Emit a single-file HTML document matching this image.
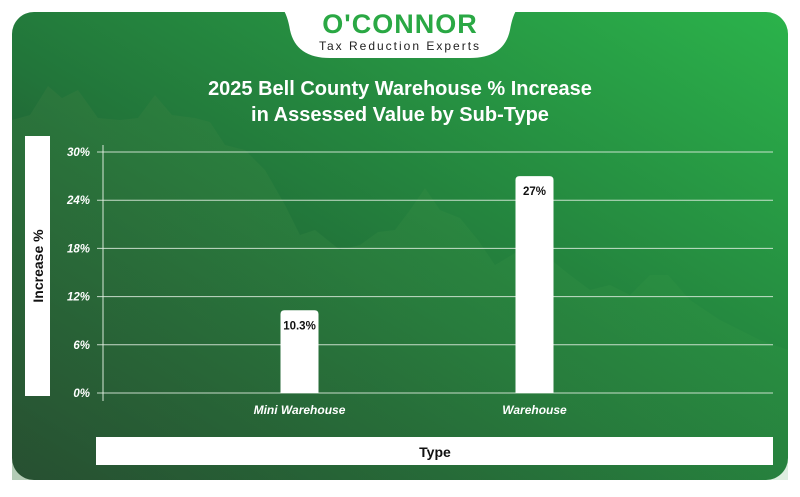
<!DOCTYPE html>
<html><head><meta charset="utf-8"><style>
body{margin:0;width:800px;height:492px;background:#fff;overflow:hidden;font-family:"Liberation Sans",sans-serif}
</style></head><body>
<svg width="800" height="492" viewBox="0 0 800 492" xmlns="http://www.w3.org/2000/svg">
<defs>
<linearGradient id="bg" x1="0" y1="1" x2="1" y2="0">
<stop offset="0" stop-color="#1b3528"/><stop offset="0.45" stop-color="#22753a"/><stop offset="1" stop-color="#2bb34b"/>
</linearGradient>
<linearGradient id="mt" x1="0" y1="0" x2="1" y2="0">
<stop offset="0" stop-color="#3a7a40" stop-opacity="0.7"/><stop offset="1" stop-color="#3aa048" stop-opacity="0.3"/>
</linearGradient>
</defs>
<rect x="12" y="12" width="776" height="468" rx="22" fill="url(#bg)"/>
<path d="M12,120 L30,115 L48,86 L62,98 L78,90 L98,118 L120,120 L138,118 L155,95 L172,115 L195,118 L210,122 L225,145 L245,150 L265,170 L285,205 L300,235 L315,230 L340,250 L360,245 L378,232 L395,230 L410,210 L425,188 L440,210 L460,218 L478,240 L495,265 L520,250 L545,255 L570,275 L590,290 L610,285 L630,295 L650,275 L668,275 L690,300 L720,320 L760,340 L788,350 L788,480 L12,480 Z" fill="url(#mt)" opacity="0.55"/>
<path d="M268,0 Q285,0 290,30 Q296,58 330,58 L470,58 Q504,58 510,30 Q515,0 532,0 Z" fill="#fff"/>
<text x="400" y="33" text-anchor="middle" font-size="27" font-weight="bold" fill="#2aa844" letter-spacing="1">O'CONNOR</text>
<text x="400" y="50" text-anchor="middle" font-size="12" fill="#222" letter-spacing="2">Tax Reduction Experts</text>
<text x="400" y="95" text-anchor="middle" font-size="20" font-weight="bold" fill="#fff">2025 Bell County Warehouse % Increase</text>
<text x="400" y="121" text-anchor="middle" font-size="20" font-weight="bold" fill="#fff">in Assessed Value by Sub-Type</text>
<rect x="25" y="136" width="25" height="260" fill="#fff"/>
<text transform="translate(43,266) rotate(-90)" text-anchor="middle" font-size="14" font-weight="bold" fill="#111">Increase %</text>
<rect x="96" y="437" width="677" height="28" fill="#fff"/>
<text x="435" y="457" text-anchor="middle" font-size="14" font-weight="bold" fill="#111">Type</text>
<line x1="103" y1="145" x2="103" y2="401" stroke="#d8e8d8" stroke-width="1"/>
<g id="grid"></g><g id="bars"></g>
</svg>
<script>
const categories = ["Mini Warehouse", "Warehouse"];
const values = [10.3, 27];
const valueLabels = ["10.3%", "27%"];
const yTicks = [0, 6, 12, 18, 24, 30];
const yTickLabels = ["0%", "6%", "12%", "18%", "24%", "30%"];

const NS = "http://www.w3.org/2000/svg";
const y0 = 393, y1 = 152, vMax = 30;
function yScale(v){ return y0 - (v / vMax) * (y0 - y1); }
const bandLeft = 182, bandRight = 652, xRight = 773;
function xScale(i){ return bandLeft + (bandRight - bandLeft) * (i + 0.5) / categories.length; }
const grid = document.getElementById('grid');
yTicks.forEach((t, i) => {
  const y = yScale(t);
  const l = document.createElementNS(NS, 'line');
  l.setAttribute('x1', 97); l.setAttribute('x2', xRight);
  l.setAttribute('y1', y); l.setAttribute('y2', y);
  l.setAttribute('stroke', '#e4f0e4'); l.setAttribute('stroke-opacity', '0.85');
  
  
  grid.appendChild(l);
  const tx = document.createElementNS(NS, 'text');
  tx.setAttribute('x', 90); tx.setAttribute('y', y + 4);
  tx.setAttribute('text-anchor', 'end'); tx.setAttribute('font-size', '11.5');
  tx.setAttribute('font-weight', 'bold'); tx.setAttribute('font-style', 'italic');
  tx.setAttribute('fill', '#fff');
  tx.textContent = yTickLabels[i];
  
  
  grid.appendChild(tx);
});
const bars = document.getElementById('bars');
const bw = 38;
categories.forEach((c, i) => {
  const cx = xScale(i);
  const top = yScale(values[i]);
  const r = document.createElementNS(NS, 'path');
  const x = cx - bw / 2, rr = 4;
  r.setAttribute('d', `M${x},${y0} L${x},${top+rr} Q${x},${top} ${x+rr},${top} L${x+bw-rr},${top} Q${x+bw},${top} ${x+bw},${top+rr} L${x+bw},${y0} Z`);
  r.setAttribute('fill', '#fff');
  
  
  bars.appendChild(r);
  const v = document.createElementNS(NS, 'text');
  v.setAttribute('x', cx); v.setAttribute('y', top + 19);
  v.setAttribute('text-anchor', 'middle'); v.setAttribute('font-size', '11.5');
  v.setAttribute('font-weight', 'bold'); v.setAttribute('fill', '#111');
  v.textContent = valueLabels[i];
  
  
  bars.appendChild(v);
  const xl = document.createElementNS(NS, 'text');
  xl.setAttribute('x', cx); xl.setAttribute('y', 414);
  xl.setAttribute('text-anchor', 'middle'); xl.setAttribute('font-size', '12');
  xl.setAttribute('font-weight', 'bold'); xl.setAttribute('font-style', 'italic');
  xl.setAttribute('fill', '#fff');
  xl.textContent = c;
  
  
  bars.appendChild(xl);
});
</script>
</body></html>
